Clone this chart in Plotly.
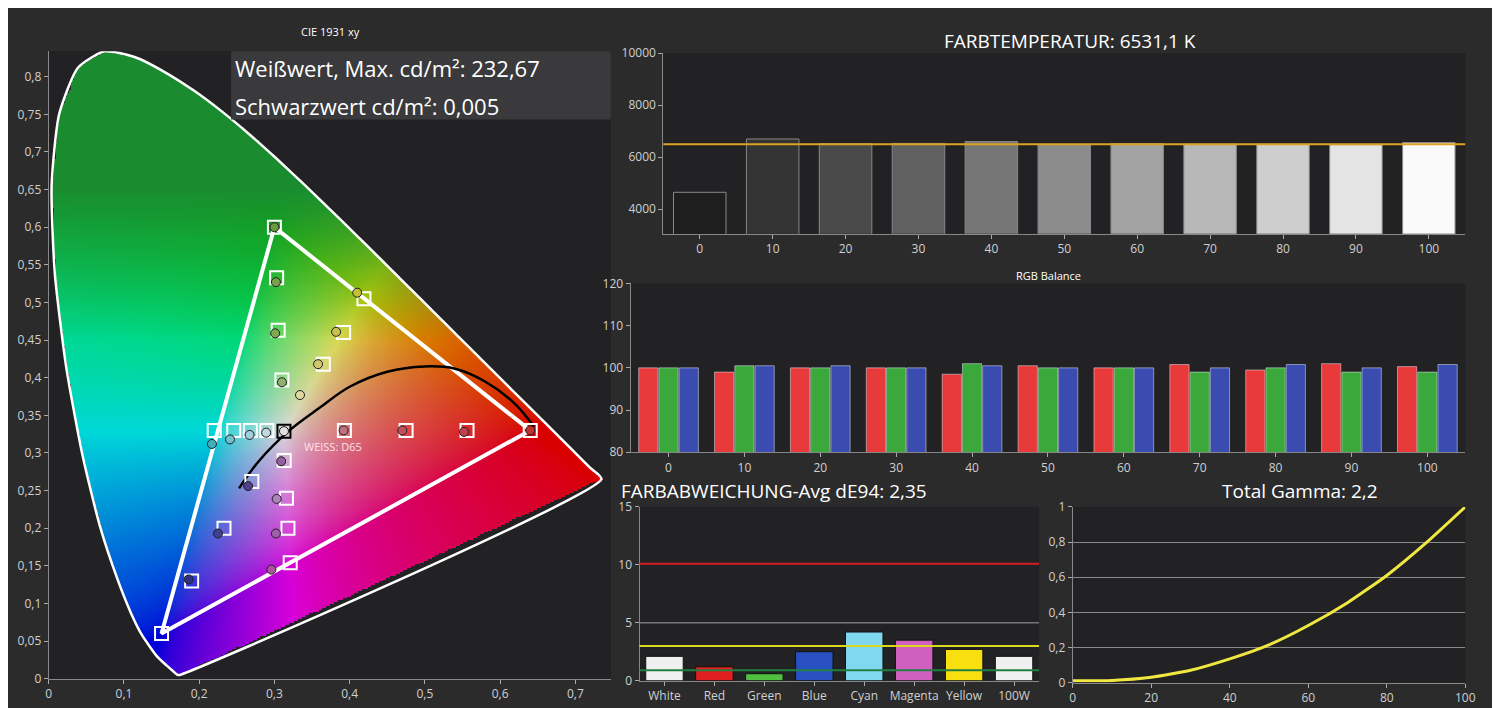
import numpy as np
import plotly.graph_objects as go

# ---------------- data ----------------
locus_x = [0.1741,0.1714,0.1644,0.1566,0.1440,0.1241,0.1096,0.0913,0.0687,0.0454,0.0235,0.0082,0.0039,0.0139,0.0389,0.0743,0.1142,0.1547,0.1929,0.2296,0.2658,0.3016,0.3373,0.3731,0.4087,0.4441,0.4788,0.5125,0.5448,0.5752,0.6029,0.6270,0.6658,0.6915,0.7190,0.7347]
locus_y = [0.0050,0.0051,0.0109,0.0177,0.0297,0.0578,0.0868,0.1327,0.2007,0.2950,0.4127,0.5384,0.6548,0.7502,0.8120,0.8338,0.8262,0.8059,0.7816,0.7543,0.7243,0.6923,0.6589,0.6245,0.5896,0.5547,0.5202,0.4866,0.4544,0.4242,0.3965,0.3725,0.3340,0.3083,0.2809,0.2653]
gamut_x = [0.64, 0.30, 0.15]
gamut_y = [0.33, 0.60, 0.06]
target_x = [0.30,0.303,0.305,0.31, 0.64,0.556,0.475,0.393, 0.15,0.19,0.233,0.27, 0.22,0.246,0.268,0.29, 0.419,0.392,0.365, 0.321,0.318,0.316,0.313]
target_y = [0.60,0.533,0.463,0.397, 0.33,0.33,0.33,0.33, 0.06,0.13,0.20,0.262, 0.33,0.33,0.33,0.33, 0.505,0.46,0.418, 0.154,0.20,0.24,0.29]
meas_x = [0.30,0.302,0.301,0.310, 0.640,0.552,0.470,0.392, 0.186,0.225,0.265, 0.217,0.241,0.267,0.289, 0.41,0.382,0.358,0.334, 0.296,0.302,0.303,0.309]
meas_y = [0.60,0.527,0.459,0.394, 0.33,0.328,0.33,0.33, 0.132,0.193,0.256, 0.312,0.318,0.324,0.327, 0.513,0.461,0.418,0.377, 0.145,0.193,0.239,0.289]
meas_col = ['#6a9a40','#7aa04a','#80a850','#90b070','#c03030','#c04050','#c05060','#c07080','#303080','#404090','#504090','#40b0c0','#70c0d0','#a0d0e0','#c0d8e0','#c0c030','#c8c050','#d0c870','#e0d8a0','#b050a0','#a060b0','#b080c0','#9060a0']
white_xy = (0.3127, 0.329)
planck_x = [0.253,0.28,0.32,0.36,0.40,0.45,0.50,0.54,0.58,0.62,0.645]
planck_y = [0.253,0.29,0.33,0.36,0.388,0.408,0.415,0.412,0.395,0.365,0.335]

ct_levels = ['0','10','20','30','40','50','60','70','80','90','100']
ct_values = [4650,6700,6520,6530,6600,6480,6520,6500,6500,6480,6560]
ct_ticks = [4000,6000,8000,10000]
rgb_r = [100,99,100,100,98.5,100.5,100,100.8,99.5,101,100.3]
rgb_g = [100,100.5,100,100,101,100,100,99,100,99,99]
rgb_b = [100,100.5,100.5,100,100.5,100,100,100,100.8,100,100.8]
de_names = ['White','Red','Green','Blue','Cyan','Magenta','Yellow','100W']
de_values = [2.1,1.2,0.6,2.5,4.2,3.5,2.7,2.1]
de_colors = ['#f0f0f0','#e02020','#50c040','#2850c0','#80d8f0','#d060c0','#f8e010','#f0f0f0']
gamma_x = [0,10,20,30,40,50,60,70,80,90,100]
gamma_y = [0.01,0.012,0.03,0.07,0.135,0.215,0.325,0.455,0.61,0.795,1.0]

# ---------------- CIE background image ----------------
nx, ny = 300, 334
xs = np.linspace(0, 0.747, nx)
ys = np.linspace(0, 0.834, ny)
X, Y = np.meshgrid(xs, ys)
px, py = np.array(locus_x), np.array(locus_y)
inside = np.zeros(X.shape, bool)
n = len(px)
for i in range(n):
    j = (i - 1) % n
    xi, yi, xj, yj = px[i], py[i], px[j], py[j]
    cond = ((yi > Y) != (yj > Y)) & (X < (xj - xi) * (Y - yi) / (yj - yi + 1e-12) + xi)
    inside ^= cond
Yc = np.where(Y > 1e-4, Y, 1e-4)
XX = X / Yc; ZZ = (1 - X - Y) / Yc; YY = np.ones_like(X)
R = 3.2406*XX - 1.5372*YY - 0.4986*ZZ
G = -0.9689*XX + 1.8758*YY + 0.0415*ZZ
B = 0.0557*XX - 0.2040*YY + 1.0570*ZZ
rgb = np.stack([R, G, B], -1)
rgb = np.clip(rgb, 0, None)
rgb = rgb / rgb.max(axis=-1, keepdims=True).clip(1e-6)
rgb = rgb ** (1/1.6)
# tone toward the reference's deeper greens / reds
green_zone = np.clip((Y - 0.45) / 0.2, 0, 1)[..., None]
rgb = rgb * (1 - green_zone) + np.array([0.12, 0.65, 0.22]) * green_zone
rgb = rgb * 0.85
img = (np.clip(rgb, 0, 1) * 255).astype(np.uint8)
bgc = np.array([34, 34, 36], np.uint8)
img[~inside] = bgc

fig = go.Figure()
fig.add_trace(go.Image(z=img, x0=0, dx=xs[1]-xs[0], y0=0, dy=ys[1]-ys[0], xaxis='x', yaxis='y', hoverinfo='skip'))
fig.add_trace(go.Scatter(x=locus_x + [locus_x[0]], y=locus_y + [locus_y[0]], mode='lines', line=dict(color='white', width=2.5, shape='spline', smoothing=0.6), xaxis='x', yaxis='y'))
fig.add_trace(go.Scatter(x=gamut_x + [gamut_x[0]], y=gamut_y + [gamut_y[0]], mode='lines', line=dict(color='white', width=4), xaxis='x', yaxis='y'))
fig.add_trace(go.Scatter(x=planck_x, y=planck_y, mode='lines', line=dict(color='black', width=2.5, shape='spline'), xaxis='x', yaxis='y'))
fig.add_trace(go.Scatter(x=target_x, y=target_y, mode='markers', marker=dict(symbol='square-open', size=13, color='white', line=dict(width=2)), xaxis='x', yaxis='y'))
fig.add_trace(go.Scatter(x=[white_xy[0]], y=[white_xy[1]], mode='markers', marker=dict(symbol='square-open', size=13, color='black', line=dict(width=2)), xaxis='x', yaxis='y'))
fig.add_trace(go.Scatter(x=meas_x + [white_xy[0]], y=meas_y + [white_xy[1]], mode='markers', marker=dict(symbol='circle', size=9, color=meas_col + ['#e0e0e0'], line=dict(color='#202020', width=1)), xaxis='x', yaxis='y'))

# ---------------- color temperature ----------------
n_ct = len(ct_levels)
ct_cols = ['rgb(%d,%d,%d)' % ((30 + k*22,)*3) for k in range(n_ct)]
fig.add_trace(go.Bar(x=ct_levels, y=ct_values, marker=dict(color=ct_cols, line=dict(color='#888', width=1)), width=0.72, xaxis='x2', yaxis='y2'))

# ---------------- RGB balance ----------------
fig.add_trace(go.Bar(x=ct_levels, y=rgb_r, marker=dict(color='#e83a3a'), xaxis='x3', yaxis='y3'))
fig.add_trace(go.Bar(x=ct_levels, y=rgb_g, marker=dict(color='#3aa83a'), xaxis='x3', yaxis='y3'))
fig.add_trace(go.Bar(x=ct_levels, y=rgb_b, marker=dict(color='#3a4cb0'), xaxis='x3', yaxis='y3'))

# ---------------- dE ----------------
fig.add_trace(go.Bar(x=de_names, y=de_values, marker=dict(color=de_colors, line=dict(color='#111', width=1)), width=0.75, xaxis='x4', yaxis='y4'))

# ---------------- gamma ----------------
fig.add_trace(go.Scatter(x=gamma_x, y=gamma_y, mode='lines', line=dict(color='#f0e840', width=3, shape='spline', smoothing=0.5), xaxis='x5', yaxis='y5'))

def H(p): return 1 - p/708
def W(p): return p/1500

tickf = dict(color='#d0d0d0', size=12, family='Open Sans')
ax_common = dict(showline=True, linecolor='#888', linewidth=1, ticks='outside', ticklen=4, tickcolor='#aaa', tickfont=tickf, zeroline=False)

fig.update_layout(
    width=1500, height=708, paper_bgcolor='#2b2b2c', plot_bgcolor='#222224',
    showlegend=False, margin=dict(l=0, r=0, t=0, b=0), barmode='group', bargap=0.2, bargroupgap=0.05,
    separators=',.',
    xaxis=dict(domain=[W(38), W(605)], range=[0, 0.747], dtick=0.1, showgrid=False, **ax_common),
    yaxis=dict(domain=[H(683), H(30)], range=[0, 0.834], dtick=0.05, showgrid=False, autorange=False, **ax_common),
    xaxis2=dict(domain=[W(658), W(1467)], type='category', showgrid=False, anchor='y2', **ax_common),
    yaxis2=dict(domain=[H(222), H(37)], range=[3060, 10000], tickvals=ct_ticks, ticktext=[str(v) for v in ct_ticks], showgrid=False, anchor='x2', **ax_common),
    xaxis3=dict(domain=[W(625), W(1467)], type='category', showgrid=False, anchor='y3', **ax_common),
    yaxis3=dict(domain=[H(446), H(273)], range=[80, 120], dtick=10, showgrid=False, anchor='x3', **ax_common),
    xaxis4=dict(domain=[W(634), W(1037)], type='category', showgrid=False, anchor='y4', **ax_common),
    yaxis4=dict(domain=[H(680), H(502)], range=[0, 15], tickvals=[0,5,10,15], showgrid=False, anchor='x4', **ax_common),
    xaxis5=dict(domain=[W(1071), W(1467)], range=[0, 100], dtick=20, showgrid=False, anchor='y5', **ax_common),
    yaxis5=dict(domain=[H(682), H(502)], range=[0, 1], dtick=0.2, showgrid=True, gridcolor='#8a8a8a', anchor='x5', **ax_common),
)

shapes = [
    dict(type='line', xref='x2 domain', yref='y2', x0=0, x1=1, y0=6500, y1=6500, line=dict(color='#e0a020', width=2)),
    dict(type='line', xref='x4 domain', yref='y4', x0=0, x1=1, y0=10.1, y1=10.1, line=dict(color='#d02020', width=2)),
    dict(type='line', xref='x4 domain', yref='y4', x0=0, x1=1, y0=5, y1=5, line=dict(color='#777', width=1.5)),
    dict(type='line', xref='x4 domain', yref='y4', x0=0, x1=1, y0=3, y1=3, line=dict(color='#d8d820', width=2)),
    dict(type='line', xref='x4 domain', yref='y4', x0=0, x1=1, y0=0.9, y1=0.9, line=dict(color='#208040', width=2)),
    dict(type='rect', xref='paper', yref='paper', x0=W(222), x1=W(605), y0=H(105), y1=H(35), fillcolor='#3a3a3c', line=dict(width=0), layer='above'),
]
fig.update_layout(shapes=shapes)

ann = [
    dict(text='CIE 1931 xy', x=W(322), y=H(15), size=11),
    dict(text='Weißwert, Max. cd/m²: 232,67', x=W(224), y=H(52), size=22, xanchor='left'),
    dict(text='Schwarzwert cd/m²: 0,005', x=W(224), y=H(91), size=22, xanchor='left'),
    dict(text='WEISS: D65', x=W(325), y=H(440), size=11, color='#ffe0ea'),
    dict(text='FARBTEMPERATUR: 6531,1 K', x=W(1068), y=H(25), size=19),
    dict(text='RGB Balance', x=W(1047), y=H(265), size=11),
    dict(text='FARBABWEICHUNG-Avg dE94: 2,35', x=W(770), y=H(486), size=19),
    dict(text='Total Gamma: 2,2', x=W(1300), y=H(486), size=19),
]
fig.update_layout(annotations=[dict(text=a['text'], x=a['x'], y=a['y'], xref='paper', yref='paper', showarrow=False,
    xanchor=a.get('xanchor', 'center'), yanchor='middle',
    font=dict(size=a['size'], color=a.get('color', 'white'), family='Open Sans')) for a in ann])

fig.write_html('out.html')
